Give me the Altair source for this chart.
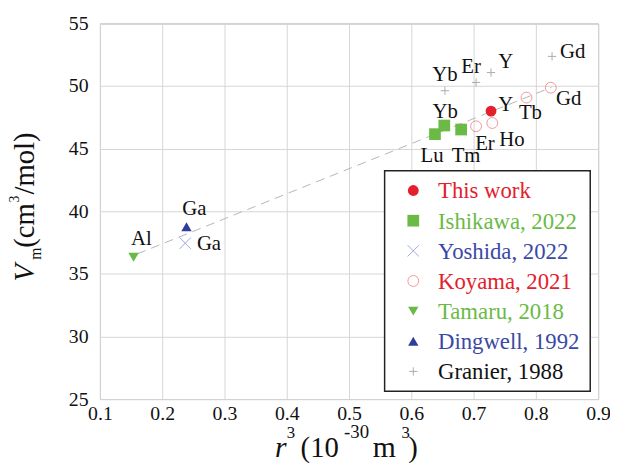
import altair as alt
import pandas as pd

# ---------------- data ----------------
this_x = [0.728]
this_y = [48.0]
this_lab = ["Y"]

ishi_x = [0.638, 0.653, 0.680]
ishi_y = [46.16, 46.85, 46.53]
ishi_lab = ["Lu", "Yb", "Tm"]

yosh_x = [0.237]
yosh_y = [37.45]
yosh_lab = ["Ga"]

koya_x = [0.704, 0.730, 0.785, 0.824]
koya_y = [46.79, 47.05, 49.08, 49.87]
koya_lab = ["Er", "Ho", "Tb", "Gd"]

tama_x = [0.154]
tama_y = [36.32]
tama_lab = ["Al"]

ding_x = [0.239]
ding_y = [38.76]
ding_lab = ["Ga"]

gran_x = [0.654, 0.704, 0.728, 0.826]
gran_y = [49.63, 50.29, 51.08, 52.37]
gran_lab = ["Yb", "Er", "Y", "Gd"]

fit_x = [0.16, 0.825]
fit_y = [36.6, 49.9]

x_ticks = [0.1, 0.2, 0.3, 0.4, 0.5, 0.6, 0.7, 0.8, 0.9]
y_ticks = [25, 30, 35, 40, 45, 50, 55]

legend_labels = ["This work", "Ishikawa, 2022", "Yoshida, 2022", "Koyama, 2021",
                 "Tamaru, 2018", "Dingwell, 1992", "Granier, 1988"]

# ---------------- styles ----------------
FONT = "Liberation Serif"
RED = "#e3202b"
LRED = "#ef6b6b"
GREEN = "#6aba45"
BLUE = "#2f3e9c"
LBLUE = "#7c84cf"
GRAY = "#8a8a8a"
TXT = "#111111"
PLUS = "M-1,0L1,0M0,-1L0,1"
XSHAPE = "M-1,-1L1,1M-1,1L1,-1"

W, H = 504, 380
xs = alt.Scale(domain=[0.1, 0.9], nice=False, zero=False)
ys = alt.Scale(domain=[25, 55], nice=False, zero=False)

X = alt.X("x:Q", scale=xs, axis=alt.Axis(values=x_ticks, format=".1f", title=None,
                                          labelFont=FONT, labelFontSize=20, labelColor=TXT,
                                          labelPadding=5, ticks=False, domain=False,
                                          gridColor="#d6d6d6", labelFlush=False))
Y = alt.Y("y:Q", scale=ys, axis=alt.Axis(values=y_ticks, format="d", title=None,
                                          labelFont=FONT, labelFontSize=20, labelColor=TXT,
                                          labelPadding=12, ticks=False, domain=False,
                                          gridColor="#d6d6d6"))

def df(xv, yv, lab=None):
    d = pd.DataFrame({"x": xv, "y": yv})
    if lab is not None:
        d["lab"] = lab
    return d

layers = []
# fit line
layers.append(alt.Chart(df(fit_x, fit_y)).mark_line(color="#b5b5b5", strokeWidth=1,
                                                     strokeDash=[9, 6]).encode(x=X, y=Y))

series = [
    (gran_x, gran_y, dict(shape=PLUS, filled=False, color=GRAY, size=70, strokeWidth=1)),
    (yosh_x, yosh_y, dict(shape=XSHAPE, filled=False, color=LBLUE, size=130, strokeWidth=1)),
    (tama_x, tama_y, dict(shape="triangle-down", filled=True, color=GREEN, size=110, opacity=1)),
    (ding_x, ding_y, dict(shape="triangle-up", filled=True, color=BLUE, size=110, opacity=1)),
    (koya_x, koya_y, dict(shape="circle", filled=False, color=LRED, size=120, strokeWidth=1)),
    (ishi_x, ishi_y, dict(shape="square", filled=True, color=GREEN, size=140, opacity=1)),
    (this_x, this_y, dict(shape="circle", filled=True, color=RED, size=120, opacity=1)),
]
for sx, sy, st in series:
    layers.append(alt.Chart(df(sx, sy)).mark_point(**st).encode(x=X, y=Y))

# point labels with per-label offsets (dx, dy)
label_sets = [
    (this_x, this_y, this_lab, [(15, -6)]),
    (ishi_x, ishi_y, ishi_lab, [(-3, 22), (1, -14), (5, 27)]),
    (yosh_x, yosh_y, yosh_lab, [(24, 1)]),
    (koya_x, koya_y, koya_lab, [(9, 18), (20, 17), (4, 16), (18, 12)]),
    (tama_x, tama_y, tama_lab, [(8, -18)]),
    (ding_x, ding_y, ding_lab, [(8, -18)]),
    (gran_x, gran_y, gran_lab, [(0, -16), (-5, -16), (15, -11), (21, -4)]),
]
for lx, ly, ll, offs in label_sets:
    for i, (ddx, ddy) in enumerate(offs):
        layers.append(alt.Chart(df([lx[i]], [ly[i]], [ll[i]])).mark_text(
            font=FONT, fontSize=21, color=TXT, dx=ddx, dy=ddy, align="center",
            baseline="middle").encode(x=X, y=Y, text="lab:N"))

# ---------------- legend (drawn by hand) ----------------
one = pd.DataFrame({"a": [0]})
layers.append(alt.Chart(one).mark_rect(fill="white", stroke="#222222", strokeWidth=1.5).encode(
    x=alt.value(288), x2=alt.value(496), y=alt.value(149), y2=alt.value(372)))
leg_styles = [
    (dict(shape="circle", filled=True, color=RED, size=120, opacity=1), RED),
    (dict(shape="square", filled=True, color=GREEN, size=140, opacity=1), GREEN),
    (dict(shape=XSHAPE, filled=False, color=LBLUE, size=130, strokeWidth=1), "#3a49a5"),
    (dict(shape="circle", filled=False, color=LRED, size=120, strokeWidth=1), RED),
    (dict(shape="triangle-down", filled=True, color=GREEN, size=110, opacity=1), GREEN),
    (dict(shape="triangle-up", filled=True, color=BLUE, size=110, opacity=1), "#3a49a5"),
    (dict(shape=PLUS, filled=False, color=GRAY, size=70, strokeWidth=1), TXT),
]
for i, (lab, (st, tc)) in enumerate(zip(legend_labels, leg_styles)):
    yy = 169 + i * 30.5
    layers.append(alt.Chart(one).mark_point(**st).encode(x=alt.value(317), y=alt.value(yy)))
    layers.append(alt.Chart(pd.DataFrame({"t": [lab]})).mark_text(
        font=FONT, fontSize=23, color=tc, align="left", baseline="middle").encode(
        x=alt.value(342), y=alt.value(yy + 1), text="t:N"))

# ---------------- axis titles (pieces for italics / super- and subscripts) ----------------
def piece(t, px, py, size, italic=False, angle=0):
    kw = dict(font=FONT, fontSize=size, color=TXT, align="left", baseline="alphabetic")
    if italic:
        kw["fontStyle"] = "italic"
    if angle:
        kw["angle"] = angle
    return alt.Chart(pd.DataFrame({"t": [t]})).mark_text(**kw).encode(
        x=alt.value(px), y=alt.value(py), text="t:N")

OX, OY = 101, 21  # page position of plot origin
xt = [("r", 278, 460, 30, True), ("3", 290, 440, 17, False), ("(10", 304, 460, 29, False),
      ("-30", 348, 440, 19, False), ("m", 377, 460, 30, False), ("3", 406, 440, 17, False),
      (")", 413, 460, 29, False)]
for t, px, py, s, it in xt:
    layers.append(piece(t, px - OX, py - OY, s, it))
yt = [("V", 34.5, 282, 29, True), ("m", 41, 260, 16, False), ("(cm", 34.5, 248, 29, False),
      ("3", 19.5, 202, 14, False), ("/mol)", 34.5, 194, 29, False)]
for t, px, py, s, it in yt:
    layers.append(piece(t, px - OX, py - OY, s, it, angle=270))

chart = alt.layer(*layers).properties(
    width=W, height=H,
    autosize=alt.AutoSizeParams(type="none"),
    padding={"left": 93, "top": 13, "right": 12, "bottom": 62},
    background="white",
).configure_view(stroke="#a8a8a8", strokeWidth=1)

chart.save("out.html", embed_options={"renderer": "svg", "actions": False})
